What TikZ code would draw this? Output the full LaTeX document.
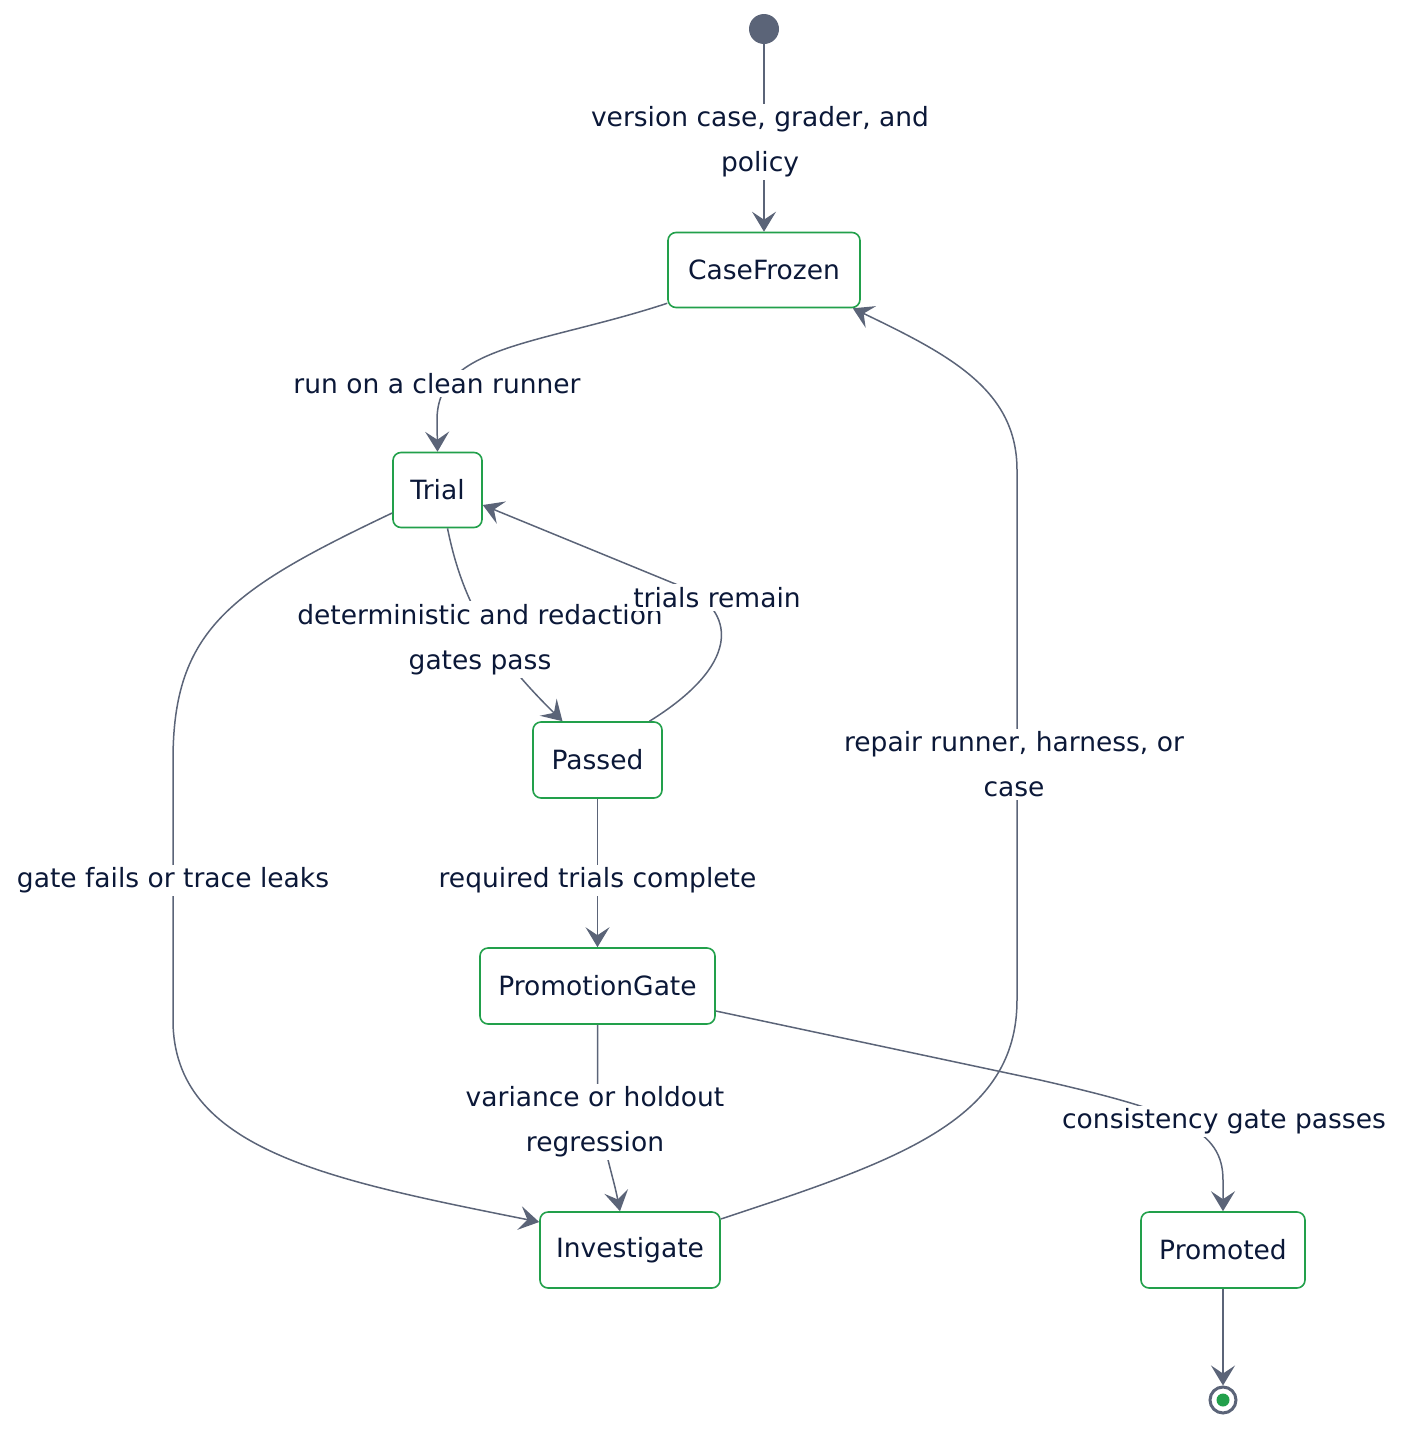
\documentclass[tikz,border=0pt]{standalone}
\usepackage{fontspec}
\setmainfont{DejaVu Sans}
\usetikzlibrary{arrows.meta,calc}
\definecolor{edgec}{HTML}{5B6478}
\definecolor{txtc}{HTML}{0B1838}
\definecolor{grn}{HTML}{22A04B}
\begin{document}
\begin{tikzpicture}[x=1pt,y=-1pt,
  state/.style={draw=grn,line width=1.6pt,rounded corners=8pt,fill=white,text=txtc,
    font=\fontsize{26.5}{32}\selectfont,minimum height=75pt,inner xsep=0pt,anchor=center},
  lbl/.style={fill=white,text=txtc,font=\fontsize{26.5}{45}\selectfont,align=center,inner xsep=1pt,inner ysep=3pt},
  edge/.style={draw=edgec,line width=1.5pt},
  arr/.style={edge,-{Stealth[length=20pt,width=24pt,inset=8pt]}}]
\useasboundingbox (0,0) rectangle (1422,1446);
% nodes
\node[circle,fill=edgec,minimum size=30pt,inner sep=0pt] (start) at (764,29) {};
\node[state,minimum width=192pt] (cf) at (764,270) {CaseFrozen};
\node[state,minimum width=89pt] (tr) at (437.5,490) {Trial};
\node[state,minimum width=129pt,minimum height=76pt] (pa) at (597.5,760) {Passed};
\node[state,minimum width=235pt,minimum height=76pt] (pg) at (597.5,986) {PromotionGate};
\node[state,minimum width=180pt,minimum height=76pt] (iv) at (630,1250) {Investigate};
\node[state,minimum width=164pt,minimum height=76pt] (pm) at (1223,1250) {Promoted};
\node[circle,draw=edgec,line width=3pt,fill=white,minimum size=26pt,inner sep=0pt] (end) at (1223,1400) {};
\node[circle,fill=grn,minimum size=13pt,inner sep=0pt] (enddot) at (end.center) {};
% edges
\draw[arr] (start.south) -- (cf.north);
\draw[arr] ([yshift=5pt]cf.south west) .. controls (540,345) and (437,345) .. (437,420) -- (tr.north);
\draw[arr] ([xshift=10pt]tr.south) .. controls (462,600) and (490,650) .. ([xshift=-35pt]pa.north);
\draw[arr] ([xshift=52pt]pa.north) .. controls (740,665) and (735,615) .. (690,590) -- ([yshift=-15pt]tr.east);
\draw[arr] ([yshift=-23pt]tr.west) .. controls (230,590) and (173,630) .. (173,760) -- (173,1020)
   .. controls (173,1150) and (330,1180) .. ([yshift=28pt]iv.west);
\draw[arr] (pa.south) -- (pg.north);
\draw[arr] (pg.south) -- (597.5,1080) .. controls (599,1140) and (612,1170) .. ([xshift=-10pt]iv.north);
\draw[arr] ([yshift=-25pt]pg.east) -- (1040,1080) .. controls (1180,1112) and (1223,1130) .. (1223,1180) -- (pm.north);
\draw[arr] ([yshift=31pt]iv.east) .. controls (900,1160) and (1017,1120) .. (1017,1000) -- (1017,470)
   .. controls (1017,390) and (950,355) .. ([xshift=-8pt]cf.south east);
\draw[arr] (pm.south) -- (end.north);
% labels
\node[lbl] (l1) at (760,142) {version case, grader, and\\policy};
\node[lbl] (l2) at (437,383.5) {run on a clean runner};
\node[lbl] (l3) at (480,639.5) {deterministic and redaction\\gates pass};
\node[lbl] (l4) at (717,597.5) {trials remain};
\node[lbl] (l5) at (173,880.5) {gate fails or trace leaks};
\node[lbl] (l6) at (597.5,880.5) {required trials complete};
\node[lbl] (l7) at (595,1122) {variance or holdout\\regression};
\node[lbl] (l8) at (1224,1121.5) {consistency gate passes};
\node[lbl] (l9) at (1014,764.5) {repair runner, harness, or\\case};
\end{tikzpicture}
\end{document}
